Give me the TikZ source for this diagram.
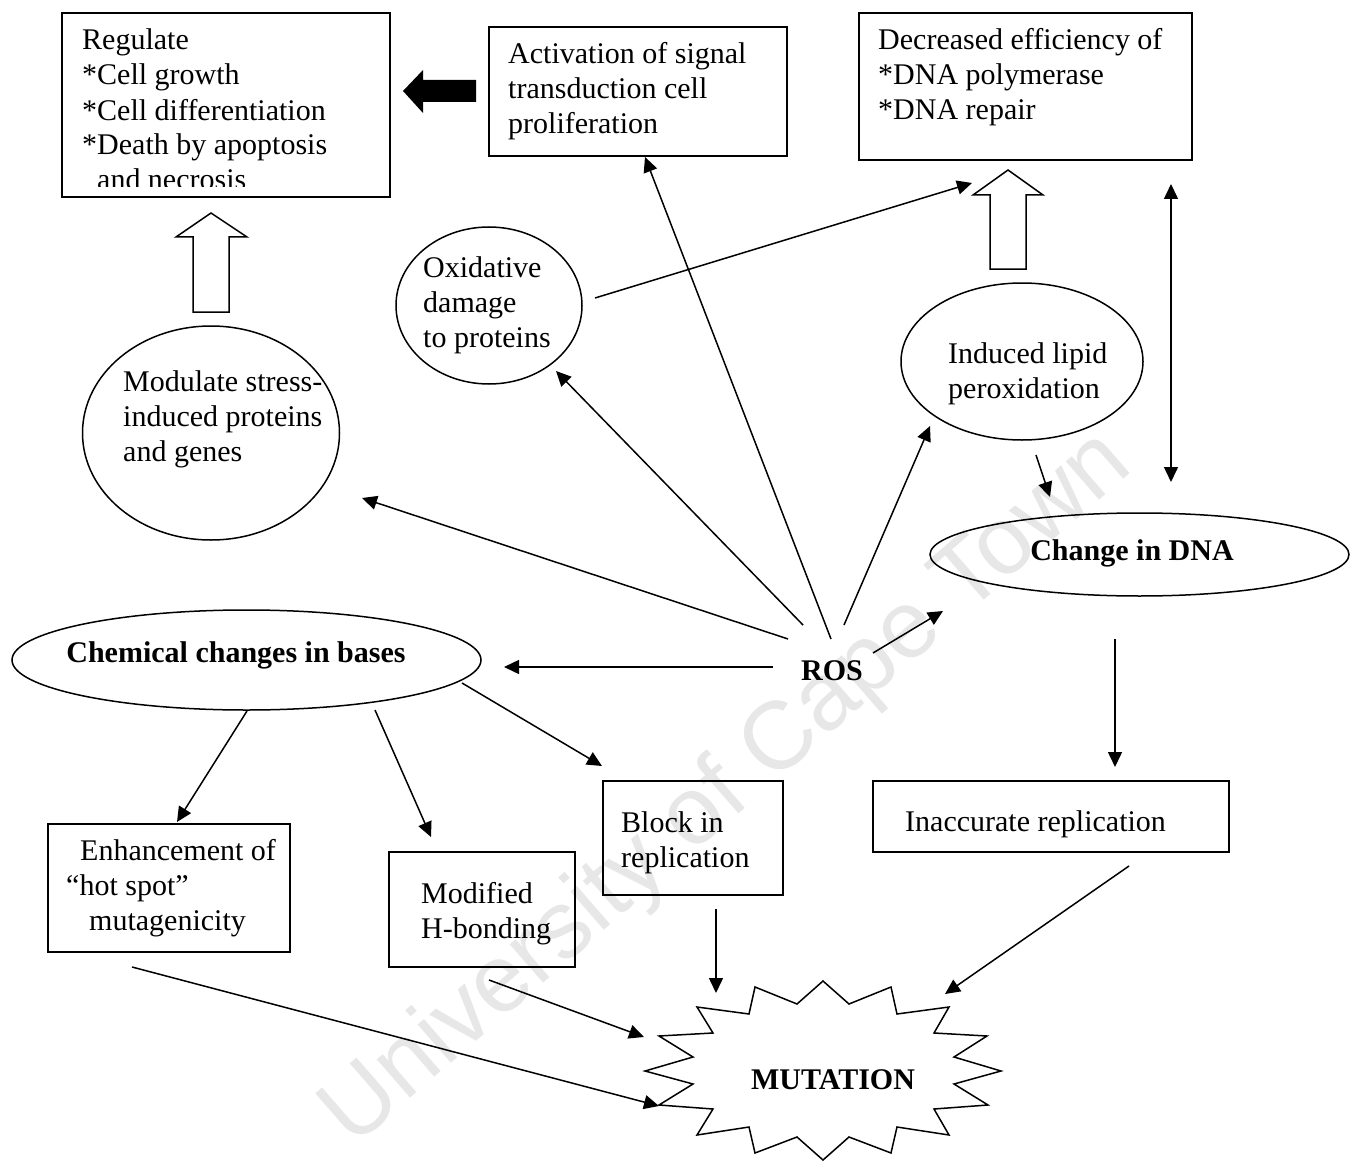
\documentclass[tikz,border=0pt]{standalone}
\usepackage{fontspec}
\setmainfont{Liberation Serif}
\newfontfamily\wmfont{Liberation Sans}
\usetikzlibrary{arrows.meta,shapes.geometric}
\tikzset{
  box/.style={draw, rectangle, inner sep=0pt, line width=1.5pt},
  oval/.style={draw, ellipse, inner sep=0pt, line width=1.5pt},
  txt/.style={inner sep=0pt, align=left, anchor=base west, font=\fontsize{30}{35}\selectfont},
  btxt/.style={inner sep=0pt, font=\bfseries\fontsize{30}{35}\selectfont},
  arr/.style={-{Triangle[length=15pt,width=14pt]}, line width=1.5pt},
  darr/.style={{Triangle[length=15pt,width=14pt]}-{Triangle[length=15pt,width=14pt]}, line width=1.5pt},
  blockarrow/.style={draw, line width=1.5pt, line join=miter},
}
\begin{document}
\begin{tikzpicture}[x=1pt, y=-1pt]
\useasboundingbox (0,0) rectangle (1352,1161);
\fill[white] (0,0) rectangle (1352,1161);

% watermark
\node[rotate=41, text=gray!19, inner sep=0pt, font=\wmfont\fontsize{96}{96}\selectfont] (wm) at (728,790) {University of Cape Town};

% boxes
\node[box, minimum width=328pt, minimum height=184pt] (reg) at (226,105) {};
\node[box, minimum width=298pt, minimum height=129pt] (act) at (638,91.5) {};
\node[box, minimum width=333pt, minimum height=147pt] (dec) at (1025.5,86.5) {};
\node[box, minimum width=242pt, minimum height=128pt] (enh) at (169,888) {};
\node[box, minimum width=186pt, minimum height=115pt] (modb) at (482,909.5) {};
\node[box, minimum width=180pt, minimum height=114pt] (blk) at (693,838) {};
\node[box, minimum width=356pt, minimum height=71pt] (inacc) at (1051,816.5) {};

% ellipses
\node[oval, minimum width=257pt, minimum height=214pt] (modu) at (211,433) {};
\node[oval, minimum width=186pt, minimum height=157pt] (oxi) at (489,305.5) {};
\node[oval, minimum width=242pt, minimum height=157pt] (lip) at (1022,361.5) {};
\node[oval, minimum width=419pt, minimum height=83pt] (dna) at (1139.5,554.5) {};
\node[oval, minimum width=469pt, minimum height=100pt] (chem) at (246.5,660) {};

% texts (anchor = baseline of the last line)
\begin{scope}
  \clip (62,13) rectangle (390,187);
  \node[txt] (regt) at (82,190) {Regulate\\*Cell growth\\*Cell differentiation\\*Death by apoptosis\\\hspace*{15pt}and necrosis};
\end{scope}
\node[txt] (actt) at (508,134) {Activation of signal\\transduction cell\\proliferation};
\node[txt] (dect) at (878,120) {Decreased efficiency of\\*DNA polymerase\\*DNA repair};
\node[txt] (oxit) at (423,347) {Oxidative\\damage\\to proteins};
\node[txt] (modt) at (123,461) {Modulate stress-\\induced proteins\\and genes};
\node[txt] (lipt) at (948,398) {Induced lipid\\peroxidation};
\node[txt] (enht) at (66,930) {\hspace*{14pt}Enhancement of\\“hot spot”\\\hspace*{23pt}mutagenicity};
\node[txt] (modbt) at (421,938) {Modified\\H-bonding};
\node[txt] (blkt) at (621,867) {Block in\\replication};
\node[txt] (inacct) at (905,831) {Inaccurate replication};
\node[btxt] (dnat) at (1132,553) {Change in DNA};
\node[btxt] (chemt) at (236,655) {Chemical changes in bases};
\node[btxt] (ros) at (832,671) {ROS};

% starburst
\draw[line width=1.5pt] (823,981) -- (849,1004) -- (891,987) -- (897,1014) -- (949,1007) -- (934,1033) -- (987,1036) -- (954,1057) -- (1001,1071) -- (954,1084) -- (988,1105) -- (934,1109) -- (949,1135) -- (897,1127) -- (891,1153) -- (849,1137) -- (823,1160) -- (797,1137) -- (755,1153) -- (749,1127) -- (697,1135) -- (713,1109) -- (659,1105) -- (693,1084) -- (645,1071) -- (693,1057) -- (659,1036) -- (713,1033) -- (697,1007) -- (749,1014) -- (755,987) -- (797,1004) -- cycle;
\node[btxt] (mut) at (833,1080) {MUTATION};

% block arrows
\fill[black] (403,91) -- (423,70) -- (423,80) -- (476,80) -- (476,102) -- (423,102) -- (423,113) -- cycle;
\draw[blockarrow] (211,213) -- (247,237) -- (229,237) -- (229,312) -- (193,312) -- (193,237) -- (176,237) -- cycle;
\draw[blockarrow] (1008,170) -- (1043,195) -- (1026,195) -- (1026,269) -- (990,269) -- (990,195) -- (973,195) -- cycle;

% connector end points
\coordinate (r1) at (831,639); \coordinate (a1) at (645,157);
\coordinate (r2) at (803,625); \coordinate (o1) at (556,371);
\coordinate (r3) at (788,639); \coordinate (m1) at (362,498);
\coordinate (r4) at (773,667); \coordinate (c1) at (504,667);
\coordinate (r5) at (844,625); \coordinate (l1) at (930,426);
\coordinate (r6) at (873,653); \coordinate (d1) at (943,611);
\coordinate (o2) at (595,298); \coordinate (e1) at (972,183);
\coordinate (l2) at (1036,455); \coordinate (d2) at (1050,497);
\coordinate (v1) at (1171,184); \coordinate (v2) at (1171,482);
\coordinate (d3) at (1115,639); \coordinate (i1) at (1115,767);
\coordinate (c2) at (247,711); \coordinate (h1) at (177,822);
\coordinate (c3) at (375,710); \coordinate (mb1) at (431,837);
\coordinate (c4) at (462,683); \coordinate (b1) at (602,766);
\coordinate (h2) at (132,967); \coordinate (u1) at (659,1106);
\coordinate (mb2) at (489,980); \coordinate (u2) at (644,1037);
\coordinate (b2) at (716,909); \coordinate (u3) at (716,993);
\coordinate (i2) at (1129,866); \coordinate (u4) at (945,994);

\draw[arr] (r1) -- (a1);
\draw[arr] (r2) -- (o1);
\draw[arr] (r3) -- (m1);
\draw[arr] (r4) -- (c1);
\draw[arr] (r5) -- (l1);
\draw[arr] (r6) -- (d1);
\draw[arr] (o2) -- (e1);
\draw[arr] (l2) -- (d2);
\draw[darr] (v1) -- (v2);
\draw[arr] (d3) -- (i1);
\draw[arr] (c2) -- (h1);
\draw[arr] (c3) -- (mb1);
\draw[arr] (c4) -- (b1);
\draw[arr] (h2) -- (u1);
\draw[arr] (mb2) -- (u2);
\draw[arr] (b2) -- (u3);
\draw[arr] (i2) -- (u4);
\end{tikzpicture}
\end{document}
